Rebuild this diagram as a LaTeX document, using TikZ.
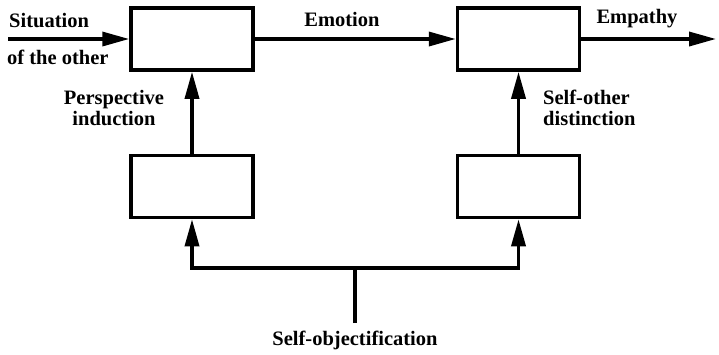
\documentclass[tikz,border=0pt]{standalone}
\usepackage{fontspec}
\setmainfont{Liberation Serif}
\usetikzlibrary{arrows.meta, positioning}
\tikzstyle{block} = [rectangle, minimum width=122pt, minimum height=62pt, draw=black, line width=3.5pt, fill=white]
\tikzstyle{arrow} = [line width=3.5pt, -{Triangle[length=27pt, width=14pt]}]
\tikzstyle{lbl} = [font=\fontsize{20.5}{21}\selectfont\bfseries, inner sep=0pt]

\begin{document}
\begin{tikzpicture}[x=1pt, y=-1pt]
    \useasboundingbox (0,0) rectangle (719,354);
    \node (emo) [block] at (192,39) {};
    \node (emp) [block, right=201pt of emo] {};
    \node (persp) [block, below=82pt of emo] {};
    \node (dist) [block, below=82pt of emp] {};
    \coordinate (in) at (8,39);
    \coordinate (out) at (716,39);
    \coordinate (j) at (355,268);
    \coordinate (src) at (355,323);
    % labels
    \node (situation) [lbl, anchor=west] at (9,21) {Situation};
    \node (other) [lbl, anchor=west] at (7,57) {of the other};
    \node (emotion) [lbl] at (342,19) {Emotion};
    \node (empathy) [lbl] at (637,19) {Empathy};
    \node (pind) [lbl, align=center] at (114,108) {Perspective\\induction};
    \node (sod) [lbl, align=left, anchor=west] at (543,108) {Self-other\\distinction};
    \node (sobj) [lbl] at (355,340) {Self-objectification};
    % connectors
    \draw[arrow] (in) -- (emo);
    \draw[arrow] (emo) -- (emp);
    \draw[arrow] (emp) -- (out);
    \draw[arrow] (persp) -- (emo);
    \draw[arrow] (dist) -- (emp);
    \draw[line width=3.5pt] (src) -- (j);
    \draw[arrow] (j) -| (persp.south);
    \draw[arrow] (j) -| (dist.south);
\end{tikzpicture}
\end{document}
